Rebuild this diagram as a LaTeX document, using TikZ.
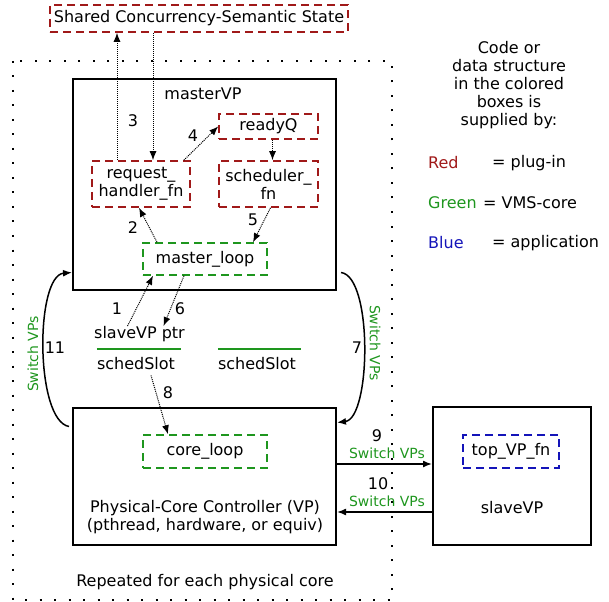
\documentclass[tikz,border=0pt]{standalone}
\usepackage{fontspec}
\setmainfont{DejaVu Sans}
\usepackage{tikz, xcolor}
\usetikzlibrary{arrows.meta}
\definecolor{pluginred}{RGB}{160,25,25}
\definecolor{coregreen}{RGB}{30,150,30}
\definecolor{appblue}{RGB}{20,20,185}
\newcommand{\pxsize}{1pt}

\begin{document}
\begin{tikzpicture}
\useasboundingbox (0,0) rectangle (609*\pxsize,-601*\pxsize);
\tikzstyle{every node}=[font=\fontsize{16}{18}\selectfont,
			inner sep=0pt
			]
\tikzstyle{codebox}=[line width=1.6pt, dash pattern=on 8pt off 5pt]
\tikzstyle{pluginbox}=[codebox, draw=pluginred]
\tikzstyle{corebox}=[codebox, draw=coregreen]
\tikzstyle{appbox}=[codebox, draw=appblue]
\tikzstyle{vpbox}=[draw, line width=2pt]
\tikzstyle{flow}=[densely dotted, line width=1pt, -{Latex[length=9pt,width=7pt]}]
\tikzstyle{switch}=[line width=1.5pt, -{Latex[length=9pt,width=7pt]}]
\tikzstyle{switchlabel}=[text=coregreen, font=\fontsize{14}{16}\selectfont]
\tikzstyle{slotline}=[draw=coregreen, line width=1.5pt]

% region repeated per core
\draw[line width=2pt, dash pattern=on 2pt off 12.5pt] (13*\pxsize,-61*\pxsize) rectangle (392*\pxsize,-600*\pxsize);

\node[pluginbox, minimum width=298*\pxsize, minimum height=27*\pxsize] (shared) at (199*\pxsize,-18.5*\pxsize) {Shared Concurrency-Semantic State};

% masterVP
\node[vpbox, minimum width=263*\pxsize, minimum height=211*\pxsize] (mastervp) at (204.5*\pxsize,-184.5*\pxsize) {};
\node (mastervplabel) at (203*\pxsize,-94*\pxsize) {masterVP};
\node[pluginbox, minimum width=99*\pxsize, minimum height=25*\pxsize] (readyq) at (268.5*\pxsize,-126.5*\pxsize) {readyQ};
\node[pluginbox, minimum width=98*\pxsize, minimum height=46*\pxsize, align=center] (reqhandler) at (141*\pxsize,-184*\pxsize) {request\_\\handler\_fn};
\node[pluginbox, minimum width=99*\pxsize, minimum height=46*\pxsize, align=center] (scheduler) at (268.5*\pxsize,-184*\pxsize) {scheduler\_\\fn};
\node[corebox, minimum width=124*\pxsize, minimum height=32*\pxsize] (masterloop) at (205*\pxsize,-259*\pxsize) {master\_loop};

% sched slots
\node (slaveptr) at (139.5*\pxsize,-334*\pxsize) {slaveVP ptr};
\node[text width=84*\pxsize, align=left] (slota) at (139*\pxsize,-364*\pxsize) {schedSlot};
\node[text width=83*\pxsize, align=left] (slotb) at (259.5*\pxsize,-364*\pxsize) {schedSlot};
\draw[slotline] ([yshift=15*\pxsize]slota.west) -- ([yshift=15*\pxsize]slota.east);
\draw[slotline] ([yshift=15*\pxsize]slotb.west) -- ([yshift=15*\pxsize]slotb.east);

% core controller
\node[vpbox, minimum width=263*\pxsize, minimum height=137*\pxsize] (corectrl) at (204.5*\pxsize,-476.5*\pxsize) {};
\node[corebox, minimum width=124*\pxsize, minimum height=33*\pxsize] (coreloop) at (205*\pxsize,-451.5*\pxsize) {core\_loop};
\node[align=center] (corectrllabel) at (205*\pxsize,-517.5*\pxsize) {Physical-Core Controller (VP)\\(pthread, hardware, or equiv)};
\node (repeated) at (205*\pxsize,-582*\pxsize) {Repeated for each physical core};

% slaveVP
\node[vpbox, minimum width=158*\pxsize, minimum height=138*\pxsize] (slavevp) at (512*\pxsize,-476*\pxsize) {};
\node[appbox, minimum width=96*\pxsize, minimum height=33*\pxsize] (topvpfn) at (511*\pxsize,-451.5*\pxsize) {top\_VP\_fn};
\node (slavevplabel) at (512*\pxsize,-508*\pxsize) {slaveVP};

% legend
\node[align=center] (legendhead) at (509*\pxsize,-85*\pxsize) {Code or\\data structure\\in the colored\\boxes is\\supplied by:};
\node[anchor=west, text=pluginred] (legendred) at (428*\pxsize,-163*\pxsize) {Red};
\node[anchor=west] (legendredtext) at (492*\pxsize,-163*\pxsize) {= plug-in};
\node[anchor=west, text=coregreen] (legendgreen) at (428*\pxsize,-203*\pxsize) {Green};
\node[anchor=west] (legendgreentext) at (483*\pxsize,-203*\pxsize) {= VMS-core};
\node[anchor=west, text=appblue] (legendblue) at (428*\pxsize,-243*\pxsize) {Blue};
\node[anchor=west] (legendbluetext) at (492*\pxsize,-243*\pxsize) {= application};

% numbered steps
\node (n1) at (117*\pxsize,-309*\pxsize) {1};
\node (n2) at (133*\pxsize,-228*\pxsize) {2};
\node (n3) at (133*\pxsize,-121*\pxsize) {3};
\node (n4) at (193*\pxsize,-136*\pxsize) {4};
\node (n5) at (253*\pxsize,-220*\pxsize) {5};
\node (n6) at (180*\pxsize,-309*\pxsize) {6};
\node (n7) at (357*\pxsize,-348*\pxsize) {7};
\node (n8) at (168*\pxsize,-393*\pxsize) {8};
\node (n9) at (377*\pxsize,-436*\pxsize) {9};
\node (n10) at (378*\pxsize,-484*\pxsize) {10};
\node (n11) at (55*\pxsize,-348*\pxsize) {11};
\node[switchlabel] (sw9) at (387*\pxsize,-453*\pxsize) {Switch VPs};
\node[switchlabel] (sw10) at (387*\pxsize,-501*\pxsize) {Switch VPs};
\node[switchlabel, rotate=90] (sw11) at (33*\pxsize,-354*\pxsize) {Switch VPs};
\node[switchlabel, rotate=-90] (sw7) at (375*\pxsize,-343*\pxsize) {Switch VPs};

% dotted flows
\draw[flow] ([xshift=-24*\pxsize]reqhandler.north) -- ([xshift=-82*\pxsize]shared.south);
\draw[flow] ([xshift=-46*\pxsize]shared.south) -- ([xshift=12*\pxsize]reqhandler.north);
\draw[flow] ([xshift=-7*\pxsize]reqhandler.north east) -- (readyq.west);
\draw[flow] ([xshift=4*\pxsize]readyq.south) -- ([xshift=4*\pxsize]scheduler.north);
\draw[flow] ([xshift=2*\pxsize]scheduler.south) -- ([xshift=48*\pxsize]masterloop.north);
\draw[flow] ([xshift=-48*\pxsize]masterloop.north) -- ([xshift=-2*\pxsize]reqhandler.south);
\draw[flow] ([xshift=-12*\pxsize]slaveptr.north) -- ([xshift=-52*\pxsize]masterloop.south);
\draw[flow] ([xshift=-21*\pxsize]masterloop.south) -- ([xshift=24*\pxsize]slaveptr.north);
\draw[flow] ([xshift=12*\pxsize,yshift=-5*\pxsize]slota.south) -- ([xshift=-37*\pxsize]coreloop.north);

% VP switches
\draw[switch] ([yshift=12.5*\pxsize]corectrl.east) -- ([yshift=12*\pxsize]slavevp.west);
\draw[switch] ([yshift=-36*\pxsize]slavevp.west) -- ([yshift=-35.5*\pxsize]corectrl.east);
\draw[switch] ([shift={(-3*\pxsize,50*\pxsize)}]corectrl.west) .. controls +(-34*\pxsize,6*\pxsize) and +(-37*\pxsize,-3*\pxsize) .. ([yshift=-88*\pxsize]mastervp.west);
\draw[switch] ([shift={(4*\pxsize,-88*\pxsize)}]mastervp.east) .. controls +(32*\pxsize,-4*\pxsize) and +(34*\pxsize,4*\pxsize) .. ([yshift=54*\pxsize]corectrl.east);

\end{tikzpicture}
\end{document}
